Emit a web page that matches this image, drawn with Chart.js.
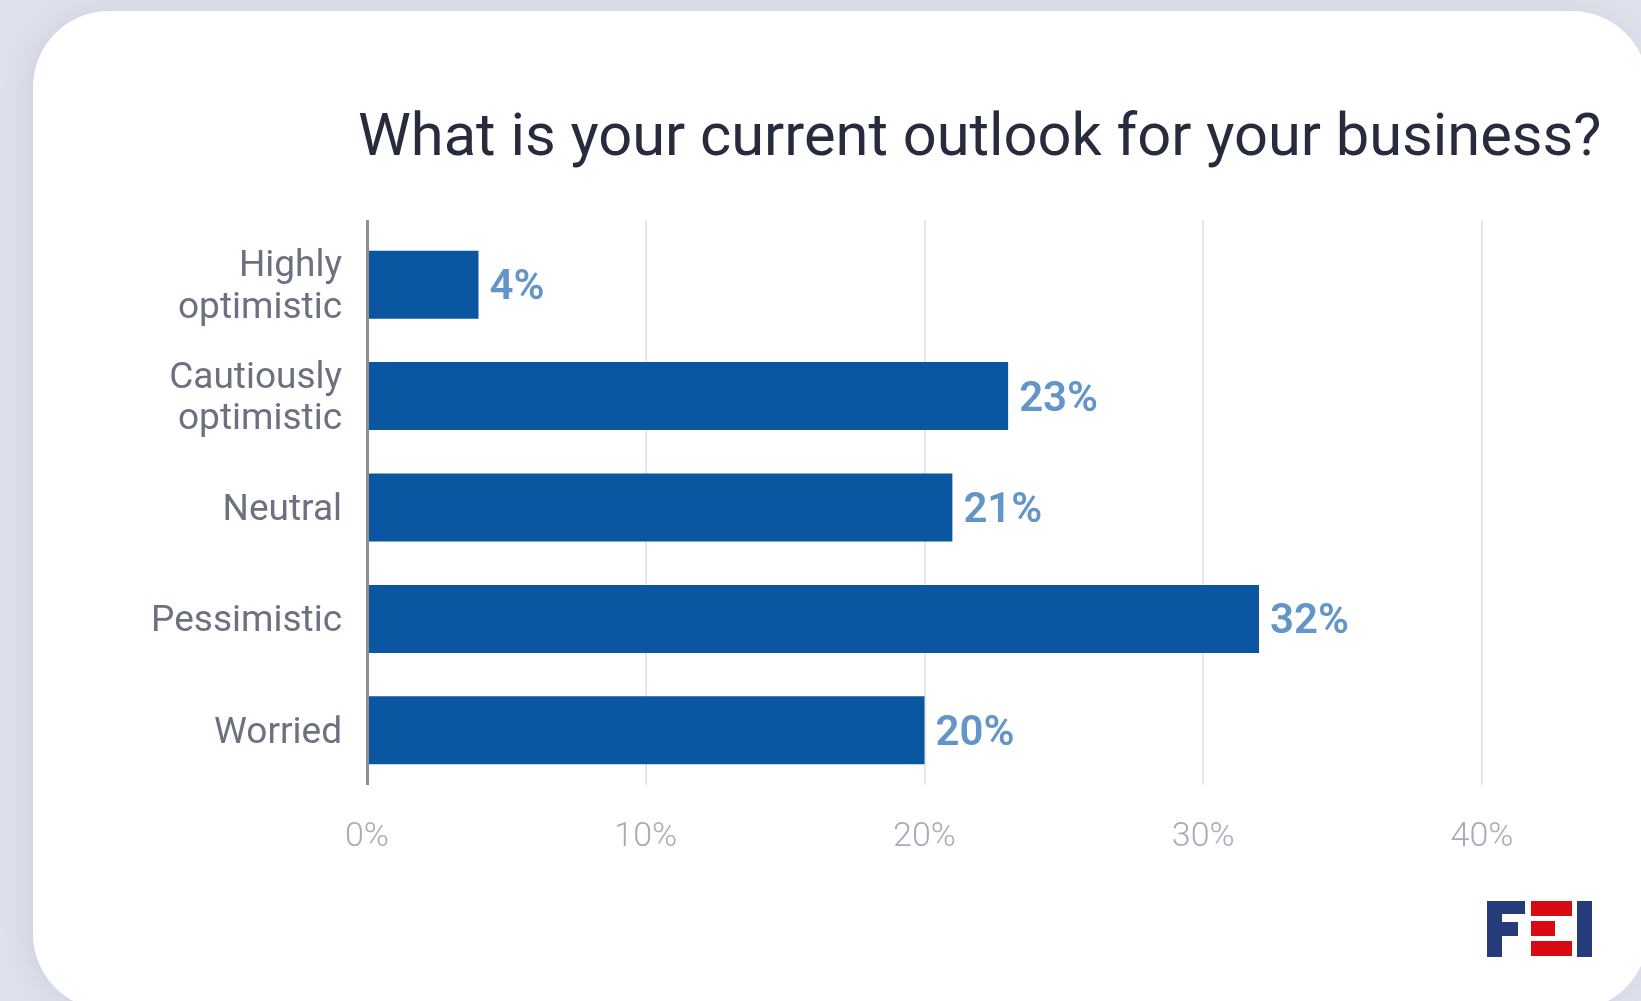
<!DOCTYPE html>
<html>
<head>
<meta charset="utf-8">
<title>Business outlook</title>
<script src="https://cdn.jsdelivr.net/npm/chart.js@4/dist/chart.umd.min.js"></script>
<style>
  html, body { margin: 0; padding: 0; }
  body {
    width: 1641px; height: 1001px; overflow: hidden; position: relative;
    background: #dee1eb; font-family: Roboto, "Noto Sans", sans-serif;
  }
  .card {
    position: absolute; left: 33px; top: 11px; width: 1615px; height: 999px;
    background: #ffffff; border-radius: 76px;
    box-shadow: -6px 0 22px rgba(140, 150, 185, 0.18);
  }
  #chart { position: absolute; left: 0; top: 0; }
  .logo div { position: absolute; }
  .navy { background: #263c7a; }
  .red { background: #da0a12; }
</style>
</head>
<body>
<div class="card"></div>
<canvas id="chart" width="1641" height="1001"></canvas>
<div class="logo" aria-label="FEI">
  <div class="navy" style="left:1487px;top:901px;width:15px;height:56px"></div>
  <div class="navy" style="left:1487px;top:901px;width:38px;height:13px"></div>
  <div class="navy" style="left:1487px;top:922px;width:31px;height:14px"></div>
  <div class="red" style="left:1531px;top:901px;width:41px;height:15px"></div>
  <div class="red" style="left:1531px;top:921px;width:24px;height:15px"></div>
  <div class="red" style="left:1531px;top:941px;width:41px;height:15px"></div>
  <div class="navy" style="left:1577px;top:901px;width:15px;height:56px"></div>
</div>
<script>
// Survey question and answers
const titleText = 'What is your current outlook for your business?';
const categories = [
  ['Highly', 'optimistic'],
  ['Cautiously', 'optimistic'],
  'Neutral',
  'Pessimistic',
  'Worried'
];
const shares = [4, 23, 21, 32, 20];          // percent of respondents
const axisMin = 0;
const axisMax = 40;
const axisStep = 10;

const BAR = '#0a56a0';
const LABEL = '#6395c9';

// Title drawn at the top of the card
const titlePlugin = {
  id: 'cardTitle',
  afterDraw(chart) {
    const ctx = chart.ctx;
    ctx.save();
    ctx.font = '400 59.6px Roboto';
    ctx.fillStyle = '#272b3e';
    ctx.textAlign = 'left';
    ctx.textBaseline = 'alphabetic';
    ctx.fillText(titleText, 358, 155);
    ctx.restore();
  }
};

// Vertical grid lines and the zero axis, a little taller than the plot area
const gridPlugin = {
  id: 'tallGrid',
  beforeDatasetsDraw(chart) {
    const { ctx, chartArea, scales } = chart;
    const x = scales.x;
    ctx.save();
    ctx.strokeStyle = '#e3e6ee';
    ctx.lineWidth = 2;
    x.ticks.forEach(t => {
      if (t.value === 0) return;
      const px = Math.round(x.getPixelForValue(t.value));
      ctx.beginPath();
      ctx.moveTo(px, chartArea.top - 9);
      ctx.lineTo(px, chartArea.bottom - 1);
      ctx.stroke();
    });
    ctx.restore();
  },
  afterDatasetsDraw(chart) {
    const { ctx, chartArea, scales } = chart;
    const px = scales.x.getPixelForValue(0) + 0.5;
    ctx.save();
    ctx.strokeStyle = '#8e8e8e';
    ctx.lineWidth = 3;
    ctx.beginPath();
    ctx.moveTo(px, chartArea.top - 9);
    ctx.lineTo(px, chartArea.bottom - 1);
    ctx.stroke();
    ctx.restore();
  }
};

// Percentage labels at the end of each bar
const valueLabels = {
  id: 'valueLabels',
  afterDatasetsDraw(chart) {
    const ctx = chart.ctx;
    const meta = chart.getDatasetMeta(0);
    ctx.save();
    ctx.font = '600 42px Roboto';
    ctx.fillStyle = LABEL;
    ctx.textAlign = 'left';
    ctx.textBaseline = 'middle';
    meta.data.forEach((bar, i) => {
      ctx.fillText(shares[i] + '%', bar.x + 11, bar.y + 4);
    });
    ctx.restore();
  }
};

new Chart(document.getElementById('chart'), {
  type: 'bar',
  data: {
    labels: categories,
    datasets: [{
      data: shares,
      backgroundColor: BAR,
      borderWidth: 0,
      categoryPercentage: 1,
      barPercentage: 0.61
    }]
  },
  options: {
    indexAxis: 'y',
    responsive: false,
    animation: false,
    devicePixelRatio: 1,
    layout: { padding: { top: 229, right: 159, bottom: 0, left: 0 } },
    plugins: {
      legend: { display: false },
      title: { display: false },
      tooltip: { enabled: false }
    },
    scales: {
      x: {
        type: 'linear',
        position: 'bottom',
        min: axisMin,
        max: axisMax,
        afterFit: s => { s.height = 215; },
        grid: { display: false, drawTicks: false },
        border: { display: false },
        ticks: {
          stepSize: axisStep,
          padding: 31,
          color: '#a8abb8',
          font: { family: 'Roboto', size: 34, weight: '300' },
          callback: v => v + '%'
        }
      },
      y: {
        type: 'category',
        afterFit: s => { s.width = 367; },
        grid: { display: false, drawTicks: false },
        border: { display: false },
        ticks: {
          padding: 25,
          labelOffset: 3,
          color: '#6c7182',
          font: { family: 'Roboto', size: 37, weight: '400', lineHeight: 1.12 }
        }
      }
    }
  },
  plugins: [gridPlugin, valueLabels, titlePlugin]
});
</script>
</body>
</html>
